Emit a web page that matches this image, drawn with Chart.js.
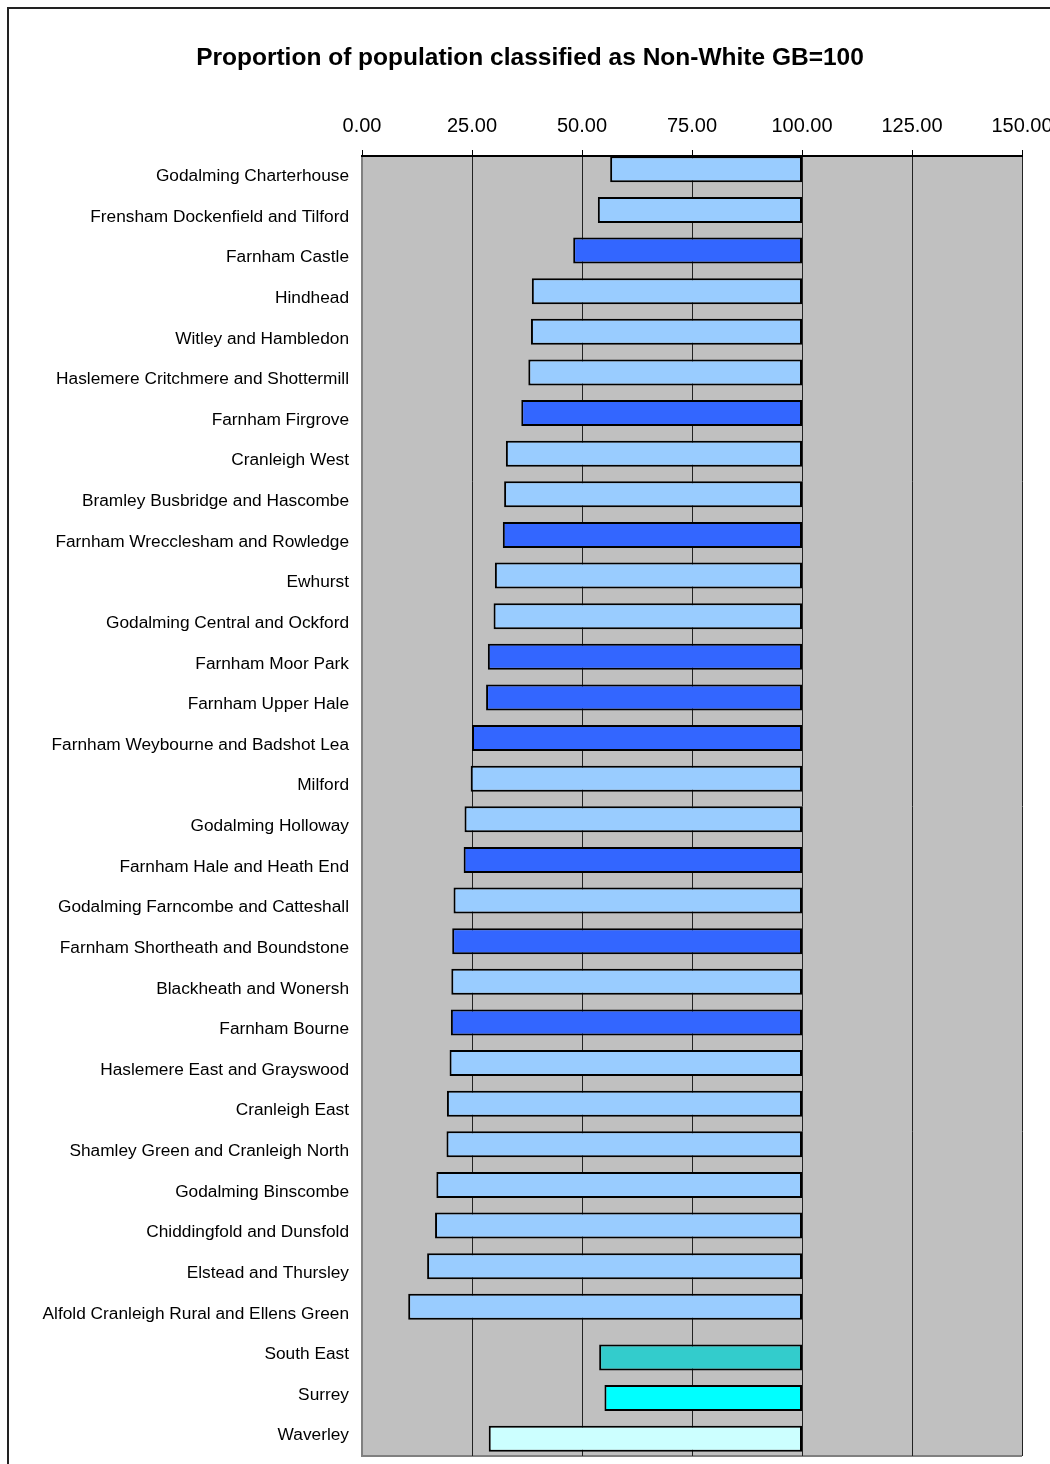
<!DOCTYPE html>
<html>
<head>
<meta charset="utf-8">
<script src="https://cdn.jsdelivr.net/npm/chart.js@4/dist/chart.umd.min.js"></script>
<style>
  html, body { margin: 0; padding: 0; background: #fff; overflow: hidden; }
  #frame { position: absolute; left: 7px; top: 7px; width: 1200px; height: 1600px; border: 2px solid #222; box-sizing: border-box; }
  #wrap { position: absolute; left: 0; top: 0; width: 1050px; height: 1464px; }
</style>
</head>
<body>
<div id="frame"></div>
<div id="wrap"><canvas id="c" width="1050" height="1464"></canvas></div>
<script>
const categories = [
  "Godalming Charterhouse", "Frensham Dockenfield and Tilford", "Farnham Castle", "Hindhead",
  "Witley and Hambledon", "Haslemere Critchmere and Shottermill", "Farnham Firgrove", "Cranleigh West",
  "Bramley Busbridge and Hascombe", "Farnham Wrecclesham and Rowledge", "Ewhurst", "Godalming Central and Ockford",
  "Farnham Moor Park", "Farnham Upper Hale", "Farnham Weybourne and Badshot Lea", "Milford",
  "Godalming Holloway", "Farnham Hale and Heath End", "Godalming Farncombe and Catteshall", "Farnham Shortheath and Boundstone",
  "Blackheath and Wonersh", "Farnham Bourne", "Haslemere East and Grayswood", "Cranleigh East",
  "Shamley Green and Cranleigh North", "Godalming Binscombe", "Chiddingfold and Dunsfold", "Elstead and Thursley",
  "Alfold Cranleigh Rural and Ellens Green", "South East", "Surrey", "Waverley"
];
const values = [
  56.4, 53.6, 48.0, 38.6,
  38.4, 37.8, 36.2, 32.7,
  32.3, 32.0, 30.2, 29.9,
  28.6, 28.2, 25.0, 24.7,
  23.3, 23.1, 20.8, 20.5,
  20.3, 20.2, 19.9, 19.3,
  19.2, 16.9, 16.6, 14.8,
  10.5, 53.9, 55.1, 28.8
];
const groups = [
  "ward", "ward", "farnham", "ward",
  "ward", "ward", "farnham", "ward",
  "ward", "farnham", "ward", "ward",
  "farnham", "farnham", "farnham", "ward",
  "ward", "farnham", "ward", "farnham",
  "ward", "farnham", "ward", "ward",
  "ward", "ward", "ward", "ward",
  "ward", "southeast", "surrey", "waverley"
];
const BASE = 100;
const tickValues = [0, 25, 50, 75, 100, 125, 150];

const groupColors = { ward: "#99CCFF", farnham: "#3366FF", southeast: "#33CCCC", surrey: "#00FFFF", waverley: "#CCFFFF" };
const isWard = g => g === "ward" || g === "farnham";

const plotBg = {
  id: "plotBg",
  beforeDraw(chart) {
    const a = chart.chartArea, ctx = chart.ctx;
    ctx.save();
    ctx.fillStyle = "#C0C0C0";
    ctx.fillRect(a.left, a.top, a.right - a.left, a.bottom - a.top);
    ctx.strokeStyle = "#808080";
    ctx.lineWidth = 2;
    ctx.beginPath();
    ctx.moveTo(a.left, a.top);
    ctx.lineTo(a.left, a.bottom);
    ctx.lineTo(a.right, a.bottom);
    ctx.stroke();
    ctx.restore();
  }
};

const colors = groups.map(g => groupColors[g]);

new Chart(document.getElementById("c"), {
  type: "bar",
  data: {
    labels: categories,
    datasets: [{
      label: "Wards",
      data: values.map((v, i) => isWard(groups[i]) ? [v, BASE] : null),
      backgroundColor: colors,
      borderColor: "#000",
      borderWidth: 2,
      borderSkipped: false,
      categoryPercentage: 0.689,
      barPercentage: 1.857
    }, {
      label: "Comparators",
      data: values.map((v, i) => isWard(groups[i]) ? null : [v, BASE]),
      backgroundColor: colors,
      borderColor: "#000",
      borderWidth: 2,
      borderSkipped: false,
      categoryPercentage: 0.295,
      barPercentage: 4.33
    }]
  },
  options: {
    indexAxis: "y",
    responsive: false,
    animation: false,
    devicePixelRatio: 1,
    layout: { padding: { left: 38, right: 28, top: 0, bottom: 8 } },
    plugins: {
      legend: { display: false },
      tooltip: { enabled: false },
      title: {
        display: true,
        text: "Proportion of population classified as Non-White GB=100",
        color: "#000",
        font: { family: "'Liberation Sans', Arial, sans-serif", size: 24.5, weight: "bold" },
        padding: { top: 44, bottom: 0 }
      }
    },
    scales: {
      x: {
        position: "top",
        min: 0, max: 150,
        afterBuildTicks(s) { s.ticks = tickValues.map(v => ({ value: v })); },
        afterFit(s) { s.height = 82.6; s.paddingLeft = 0; s.paddingRight = 0; },
        ticks: {
          color: "#000",
          font: { family: "'Liberation Sans', Arial, sans-serif", size: 20 },
          padding: 12,
          maxRotation: 0,
          callback: v => Number(v).toFixed(2)
        },
        grid: {
          color: ctx => ctx.index === 0 ? "rgba(0,0,0,0)" : "#222",
          lineWidth: 1,
          drawTicks: true,
          tickLength: 6,
          tickColor: "#000"
        },
        border: { display: true, color: "#000", width: 2 }
      },
      y: {
        afterFit(s) { s.width = 324; s.paddingTop = 0; s.paddingBottom = 0; },
        ticks: {
          color: "#000",
          font: { family: "'Liberation Sans', Arial, sans-serif", size: 17.3 },
          padding: 13,
          autoSkip: false
        },
        grid: { display: false, drawTicks: false },
        border: { display: false }
      }
    }
  },
  plugins: [plotBg]
});
</script>
</body>
</html>
